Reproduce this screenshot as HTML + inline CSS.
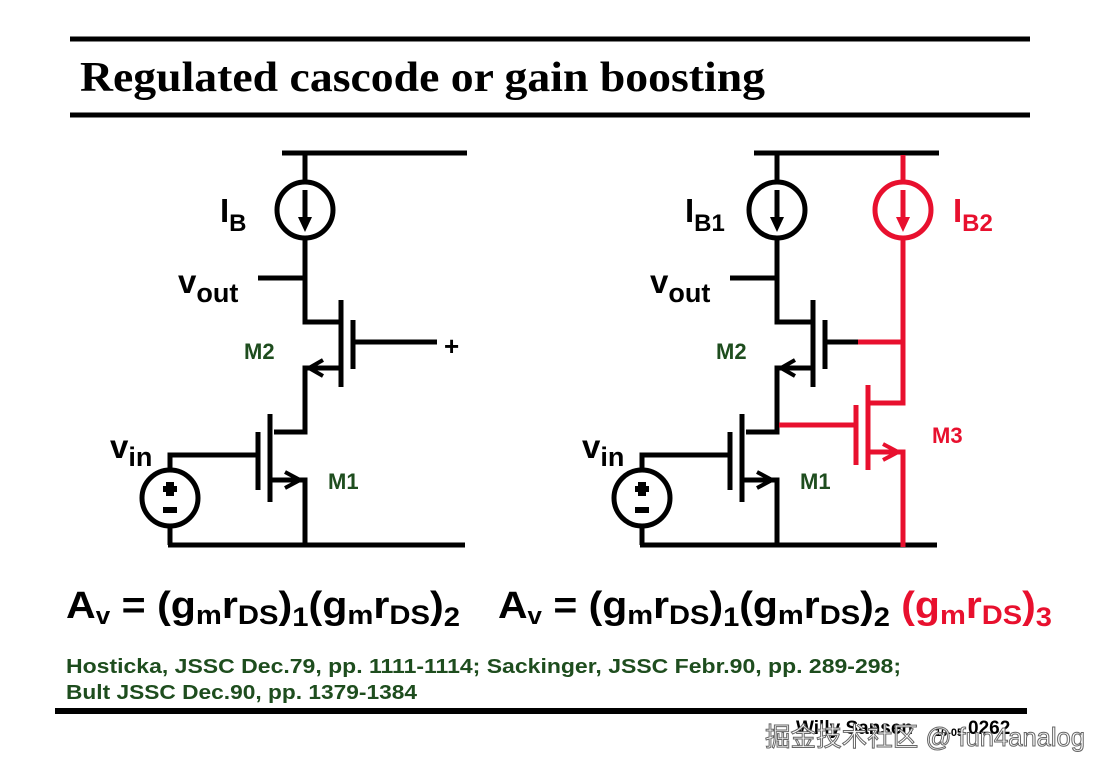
<!DOCTYPE html>
<html><head><style>
html,body{margin:0;padding:0;background:#fff;}
svg{display:block;}
text{font-family:"Liberation Sans",sans-serif;font-weight:bold;}
</style></head><body>
<svg width="1107" height="774" viewBox="0 0 1107 774" xmlns="http://www.w3.org/2000/svg">
<rect width="1107" height="774" fill="#fff"/>
<line x1="70" y1="39" x2="1030" y2="39" stroke="#000" stroke-width="5"/>
<text x="80" y="91" style="font-family:'Liberation Serif',serif;font-size:42px" textLength="685" lengthAdjust="spacingAndGlyphs">Regulated cascode or gain boosting</text>
<line x1="70" y1="115" x2="1030" y2="115" stroke="#000" stroke-width="5"/>

<g fill="none" stroke="#000" stroke-width="5">
<!-- left circuit -->
<line x1="282" y1="153" x2="467" y2="153"/>
<line x1="305" y1="153" x2="305" y2="182"/>
<circle cx="305" cy="210" r="28"/>
<line x1="305" y1="190" x2="305" y2="218"/>
<polyline points="305,238 305,322 341,322"/>
<line x1="258" y1="278" x2="305" y2="278"/>
<line x1="341" y1="300" x2="341" y2="387"/>
<line x1="353" y1="320" x2="353" y2="369"/>
<line x1="353" y1="342" x2="437" y2="342"/>
<polyline points="341,368 305,368 305,432 274,432"/>
<path d="M323,360 L309,368 L323,376" stroke-width="4"/>
<line x1="270" y1="414" x2="270" y2="502"/>
<line x1="258" y1="432" x2="258" y2="490"/>
<polyline points="170,470 170,455 258,455"/>
<polyline points="270,480 305,480 305,545"/>
<path d="M285,472 L300,480 L285,488" stroke-width="4"/>
<line x1="168" y1="545" x2="465" y2="545"/>
<circle cx="170" cy="498" r="28"/>
<line x1="170" y1="526" x2="170" y2="545"/>
<!-- right circuit -->
<line x1="754" y1="153" x2="939" y2="153"/>
<line x1="777" y1="153" x2="777" y2="182"/>
<circle cx="777" cy="210" r="28"/>
<line x1="777" y1="190" x2="777" y2="218"/>
<polyline points="777,238 777,322 813,322"/>
<line x1="730" y1="278" x2="777" y2="278"/>
<line x1="813" y1="300" x2="813" y2="387"/>
<line x1="825" y1="320" x2="825" y2="369"/>
<line x1="825" y1="342" x2="858" y2="342"/>
<polyline points="813,368 777,368 777,432 746,432"/>
<path d="M795,360 L781,368 L795,376" stroke-width="4"/>
<line x1="742" y1="414" x2="742" y2="502"/>
<line x1="730" y1="432" x2="730" y2="490"/>
<polyline points="642,470 642,455 730,455"/>
<polyline points="742,480 777,480 777,545"/>
<path d="M757,472 L772,480 L757,488" stroke-width="4"/>
<line x1="640" y1="545" x2="937" y2="545"/>
<circle cx="642" cy="498" r="28"/>
<line x1="642" y1="526" x2="642" y2="545"/>
</g>
<g fill="#000">
<path d="M298,217 L312,217 L305,232 Z"/>
<path d="M770,217 L784,217 L777,232 Z"/>
</g>
<g fill="none" stroke="#e8102e" stroke-width="5">
<line x1="903" y1="155" x2="903" y2="182"/>
<circle cx="903" cy="210" r="28"/>
<line x1="903" y1="190" x2="903" y2="218"/>
<polyline points="903,238 903,403 868,403"/>
<line x1="858" y1="342" x2="903" y2="342"/>
<line x1="868" y1="385" x2="868" y2="470"/>
<line x1="856" y1="405" x2="856" y2="465"/>
<line x1="779" y1="425" x2="856" y2="425"/>
<polyline points="868,452 903,452 903,547"/>
<path d="M883,444 L898,452 L883,460" stroke-width="4"/>
</g>
<path d="M896,217 L910,217 L903,232 Z" fill="#e8102e"/>
<g fill="#000">
<rect x="166" y="482" width="8" height="14"/><rect x="163" y="486" width="14" height="6"/>
<rect x="163" y="507" width="14" height="6"/>
<rect x="638" y="482" width="8" height="14"/><rect x="635" y="486" width="14" height="6"/>
<rect x="635" y="507" width="14" height="6"/>
</g>
<g font-size="33">
<text x="220" y="222">I<tspan font-size="24" dy="9">B</tspan></text>
<text x="178" y="293">v<tspan font-size="27" dy="9">out</tspan></text>
<text x="110" y="458">v<tspan font-size="27" dy="8">in</tspan></text>
<text x="444" y="355" font-size="26">+</text>
<text x="685" y="222">I<tspan font-size="24" dy="9">B1</tspan></text>
<text x="650" y="293">v<tspan font-size="27" dy="9">out</tspan></text>
<text x="582" y="458">v<tspan font-size="27" dy="8">in</tspan></text>
<text x="953" y="222" fill="#e8102e">I<tspan font-size="24" dy="9">B2</tspan></text>
</g>
<g font-size="22" fill="#1e4d1e">
<text x="244" y="359">M2</text>
<text x="328" y="489">M1</text>
<text x="716" y="359">M2</text>
<text x="800" y="489">M1</text>
<text x="932" y="443" fill="#e8102e">M3</text>
</g>
<g font-size="38">
<text x="66" y="618" textLength="394" lengthAdjust="spacingAndGlyphs">A<tspan font-size="24" dy="6">v</tspan><tspan dy="-6"> = (g</tspan><tspan font-size="27" dy="6">m</tspan><tspan dy="-6">r</tspan><tspan font-size="27" dy="6">DS</tspan><tspan dy="-6">)</tspan><tspan font-size="27" dy="8">1</tspan><tspan dy="-8">(g</tspan><tspan font-size="27" dy="6">m</tspan><tspan dy="-6">r</tspan><tspan font-size="27" dy="6">DS</tspan><tspan dy="-6">)</tspan><tspan font-size="27" dy="8">2</tspan></text>
<text x="498" y="618" textLength="554" lengthAdjust="spacingAndGlyphs">A<tspan font-size="24" dy="6">v</tspan><tspan dy="-6"> = (g</tspan><tspan font-size="27" dy="6">m</tspan><tspan dy="-6">r</tspan><tspan font-size="27" dy="6">DS</tspan><tspan dy="-6">)</tspan><tspan font-size="27" dy="8">1</tspan><tspan dy="-8">(g</tspan><tspan font-size="27" dy="6">m</tspan><tspan dy="-6">r</tspan><tspan font-size="27" dy="6">DS</tspan><tspan dy="-6">)</tspan><tspan font-size="27" dy="8">2</tspan><tspan dy="-8" fill="#e8102e"> (g</tspan><tspan font-size="27" dy="6" fill="#e8102e">m</tspan><tspan dy="-6" fill="#e8102e">r</tspan><tspan font-size="27" dy="6" fill="#e8102e">DS</tspan><tspan dy="-6" fill="#e8102e">)</tspan><tspan font-size="27" dy="8" fill="#e8102e">3</tspan></text>
</g>
<g font-size="20" fill="#1e4d1e">
<text x="66" y="673" textLength="835" lengthAdjust="spacingAndGlyphs">Hosticka, JSSC Dec.79, pp. 1111-1114; Sackinger, JSSC Febr.90, pp. 289-298;</text>
<text x="66" y="699" textLength="351" lengthAdjust="spacingAndGlyphs">Bult JSSC Dec.90, pp. 1379-1384</text>
</g>
<line x1="55" y1="711" x2="1027" y2="711" stroke="#000" stroke-width="6"/>
<text x="796" y="734" font-size="19">Willy Sansen</text>
<text x="935" y="736" font-size="11">10-05</text>
<text x="968" y="734" font-size="19">0262</text>
<text x="765" y="746" font-size="26" fill="#fff" stroke="#666" stroke-width="1" textLength="320" lengthAdjust="spacingAndGlyphs" style="font-family:'Liberation Sans','Noto Sans CJK SC',sans-serif;font-weight:normal">掘金技术社区 @ fun4analog</text>
</svg>
</body></html>
